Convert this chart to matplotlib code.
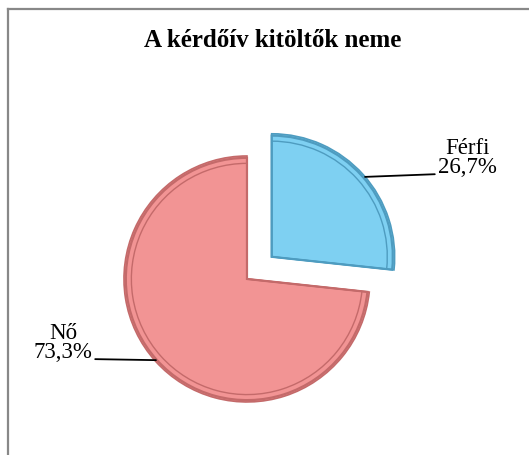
import matplotlib.pyplot as plt
from matplotlib.lines import Line2D

title = 'A kérdőív kitöltők neme'
labels = ['Férfi', 'Nő']
shares = [26.7, 73.3]
pct_text = ['26,7%', '73,3%']
colors = ['#7ED0F2', '#F29494']
edges = ['#4E9CC0', '#C46A6A']

plt.rcParams['font.family'] = ['Liberation Serif', 'DejaVu Serif']

fig = plt.figure(figsize=(5.29, 4.55), dpi=100)
ax = fig.add_axes([0, 0, 1, 1])

explode = [0.27, 0]
wedges, _ = ax.pie(shares, explode=explode, startangle=90, counterclock=False,
                   colors=colors, wedgeprops=dict(linewidth=1.2))
for w, e in zip(wedges, edges):
    w.set_edgecolor(e)

# bevel rings
for r, lw in [(0.985, 1.6), (0.94, 1.0)]:
    ring, _ = ax.pie(shares, explode=explode, startangle=90, counterclock=False,
                     radius=r, wedgeprops=dict(fill=False, linewidth=lw))
    for w, e in zip(ring, edges):
        w.set_edgecolor(e)

ax.set_xlim(-2.008, 2.293)
ax.set_ylim(-1.431, 2.268)
ax.set_aspect('equal')
ax.axis('off')

# labels with leader lines
ax.annotate(labels[0] + '\n' + pct_text[0], xy=(0.96, 0.83), xytext=(1.789, 0.984),
            ha='center', va='center', fontsize=16.5, linespacing=0.9,
            arrowprops=dict(arrowstyle='-', color='black', lw=1.3,
                            relpos=(0.0, 0.1), shrinkA=0, shrinkB=0))
ax.annotate(labels[1] + '\n' + pct_text[1], xy=(-0.74, -0.66), xytext=(-1.496, -0.520),
            ha='center', va='center', fontsize=16.5, linespacing=0.9,
            arrowprops=dict(arrowstyle='-', color='black', lw=1.3,
                            relpos=(1.0, 0.1), shrinkA=0, shrinkB=0))

fig.text(0.515, 0.912, title, ha='center', va='center', fontsize=18, fontweight='bold')

# chart area border (left and top)
fig.add_artist(Line2D([7.5 / 529, 7.5 / 529], [0, 1 - 8.5 / 455], color='#888888', lw=1.6))
fig.add_artist(Line2D([7.5 / 529, 1], [1 - 8.5 / 455, 1 - 8.5 / 455], color='#888888', lw=1.6))

fig.savefig('out.png', dpi=100)
